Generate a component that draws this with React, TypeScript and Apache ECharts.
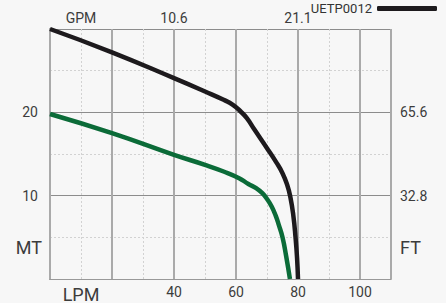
import React, { useEffect, useRef } from "react";
import * as echarts from "echarts";

const seriesName = "UETP0012";
const blackFlow = [0, 20, 40, 50, 56, 59, 61.5, 63.5, 66, 70, 73, 75, 76.5, 77.5, 78.5, 79.2, 79.7, 80];
const blackHead = [30, 27.2, 24.1, 22.5, 21.5, 20.9, 20.1, 19.3, 17.9, 15.7, 14.0, 12.7, 11.3, 9.9, 7.6, 5.0, 2.5, 0];
const greenFlow = [0, 20, 40, 50, 56, 61, 64, 66.5, 68.5, 70, 71.5, 72.8, 73.8, 75, 76.2, 77.4];
const greenHead = [19.8, 17.5, 14.9, 13.7, 12.9, 12.1, 11.4, 10.9, 10.3, 9.6, 8.7, 7.6, 6.5, 5.0, 2.7, 0];
const lpmLabels = [40, 60, 80, 100];
const gpmLabels: Record<number, string> = { 10: "GPM", 40: "10.6", 80: "21.1" };
const mtLabels: Record<number, string> = { 10: "10", 20: "20" };
const ftLabels: Record<number, string> = { 10: "32.8", 20: "65.6" };

const FONT = "Roboto";
const TXT = "#3c3c3c";

export default function App() {
  const ref = useRef<HTMLDivElement>(null);
  useEffect(() => {
    document.body.style.margin = "0";
    document.body.style.background = "#f7f7f7";
    const chart = echarts.init(ref.current!, null, { renderer: "svg" });
    const hidden = { show: false };
    chart.setOption({
      animation: false,
      backgroundColor: "#f7f7f7",
      textStyle: { fontFamily: FONT },
      grid: { left: 50, right: 55, top: 29, bottom: 23 },
      legend: {
        data: [seriesName],
        right: 4,
        top: -3,
        align: "right",
        icon: "roundRect",
        itemWidth: 60,
        itemHeight: 5,
        textStyle: { fontFamily: FONT, fontSize: 13, color: "#333" },
      },
      xAxis: [
        {
          type: "value", position: "bottom", min: 0, max: 110, interval: 10,
          axisLine: { show: true, lineStyle: { color: "#999", width: 1 } },
          axisTick: hidden,
          axisLabel: {
            margin: 6, fontSize: 14, color: TXT, fontFamily: FONT,
            formatter: (v: number) => (v === 10 ? "{big|LPM}" : lpmLabels.includes(v) ? String(v) : ""),
            rich: { big: { fontSize: 18, color: TXT, fontFamily: FONT } },
          },
          splitLine: { show: true, lineStyle: { color: "#d2d2d2", type: [2, 2], width: 1 } },
        },
        {
          type: "value", position: "top", min: 0, max: 110, interval: 10,
          axisLine: { show: true, lineStyle: { color: "#999", width: 1 } },
          axisTick: hidden,
          axisLabel: {
            margin: 4, fontSize: 14, color: TXT, fontFamily: FONT,
            formatter: (v: number) => gpmLabels[v] ?? "",
          },
          splitLine: hidden,
        },
        {
          type: "value", position: "bottom", min: 0, max: 110, interval: 20,
          axisLine: hidden, axisTick: hidden, axisLabel: hidden,
          splitLine: { show: true, lineStyle: { color: "#aaa", width: 2 } },
        },
      ],
      yAxis: [
        {
          type: "value", position: "left", min: 0, max: 30, interval: 5,
          axisLine: { show: true, lineStyle: { color: "#999", width: 2 } },
          axisTick: hidden,
          axisLabel: {
            margin: 12, fontSize: 14, color: TXT, fontFamily: FONT,
            formatter: (v: number) => mtLabels[v] ?? "",
          },
          splitLine: { show: true, lineStyle: { color: "#d2d2d2", type: [2, 2], width: 1 } },
        },
        {
          type: "value", position: "right", min: 0, max: 30, interval: 10,
          axisLine: { show: true, lineStyle: { color: "#aaa", width: 2 } },
          axisTick: hidden,
          axisLabel: {
            margin: 9, fontSize: 14, color: TXT, fontFamily: FONT,
            formatter: (v: number) => ftLabels[v] ?? "",
          },
          splitLine: hidden,
        },
        {
          type: "value", position: "left", min: 0, max: 30, interval: 10,
          axisLine: hidden, axisTick: hidden, axisLabel: hidden,
          splitLine: { show: true, lineStyle: { color: "#8c8c8c", width: 1 } },
        },
      ],
      graphic: [
        { type: "text", right: 404, top: 238, style: { text: "MT", fontSize: 18, fill: TXT, fontFamily: FONT } },
        { type: "text", left: 400, top: 238, style: { text: "FT", fontSize: 18, fill: TXT, fontFamily: FONT } },
      ],
      series: [
        {
          name: "green",
          type: "line",
          xAxisIndex: 0, yAxisIndex: 0,
          data: greenFlow.map((x, i) => [x, greenHead[i]]),
          smooth: 0.5,
          showSymbol: false, symbol: "none",
          lineStyle: { color: "#0b6b38", width: 4.5 },
          itemStyle: { color: "#0b6b38" },
        },
        {
          name: seriesName,
          type: "line",
          xAxisIndex: 0, yAxisIndex: 0,
          data: blackFlow.map((x, i) => [x, blackHead[i]]),
          smooth: 0.5,
          showSymbol: false, symbol: "none",
          lineStyle: { color: "#1d1a1d", width: 4.5 },
          itemStyle: { color: "#1d1a1d" },
        },
      ],
    });
    return () => chart.dispose();
  }, []);
  return <div ref={ref} style={{ width: 446, height: 303 }} />;
}
